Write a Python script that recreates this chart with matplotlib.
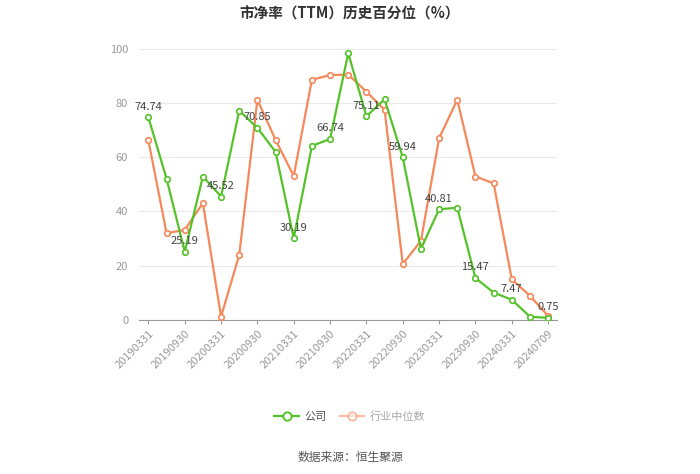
import matplotlib
matplotlib.use("Agg")
import matplotlib.pyplot as plt  # noqa: E402
from matplotlib.lines import Line2D  # noqa: E402

plt.rcParams["font.family"] = ["Noto Sans CJK SC", "DejaVu Sans"]

dates = ["20190331", "20190630", "20190930", "20191231", "20200331", "20200630",
         "20200930", "20201231", "20210331", "20210630", "20210930", "20211231",
         "20220331", "20220630", "20220930", "20221231", "20230331", "20230630",
         "20230930", "20231231", "20240331", "20240630", "20240709"]
company = [74.74, 52.1, 25.19, 52.9, 45.52, 77.2, 70.85, 62.0, 30.19, 64.2, 66.74, 98.4,
           75.11, 81.4, 59.94, 26.2, 40.81, 41.4, 15.47, 10.1, 7.47, 1.2, 0.75]
industry = [66.3, 32.0, 33.2, 43.1, 1.2, 24.0, 81.2, 66.4, 53.1, 88.6, 90.3, 90.5,
            84.2, 77.5, 20.6, 29.2, 67.0, 81.2, 52.9, 50.4, 15.0, 8.9, 1.5]

GREEN = "#56c22a"
ORANGE = "#f5895c"

fig = plt.figure(figsize=(7, 4.74), dpi=100)
ax = fig.add_axes([0.199, 0.325, 0.597, 0.572])
x = list(range(len(dates)))

ax.plot(x, industry, color=ORANGE, lw=1.6, marker="o", ms=4, mfc="white", mew=1.2, zorder=3)
ax.plot(x, company, color=GREEN, lw=1.6, marker="o", ms=4, mfc="white", mew=1.2, zorder=4)

for i in range(0, len(dates), 2):
    ax.annotate(f"{company[i]:.2f}", (x[i], company[i]), textcoords="offset points",
                xytext=(0, 4), ha="center", va="bottom", fontsize=8, color="#444444", zorder=5)

ax.set_xlim(-0.5, len(dates) - 0.5)
ax.set_ylim(0, 100)
ax.set_yticks([0, 20, 40, 60, 80, 100])
ax.grid(axis="y", color="#e8e8e8", lw=0.8)
ax.set_axisbelow(True)
ticks = list(range(0, len(dates), 2))
ax.set_xticks(ticks)
ax.set_xticklabels([dates[i] for i in ticks], rotation=45, ha="right", rotation_mode="anchor")
ax.tick_params(axis="x", colors="#999999", labelsize=8, length=3, pad=3)
ax.tick_params(axis="y", colors="#999999", labelsize=8, length=0, pad=8)
for s in ["top", "right", "left"]:
    ax.spines[s].set_visible(False)
ax.spines["bottom"].set_color("#999999")

fig.text(0.5, 0.972, "市净率（TTM）历史百分位（%）", ha="center", va="center",
         fontsize=10.5, fontweight="bold", color="#333333")

handles = [Line2D([], [], color=GREEN, lw=1.6, marker="o", ms=6, mfc="white", mew=1.4),
           Line2D([], [], color=ORANGE, lw=1.6, marker="o", ms=6, mfc="white", mew=1.4, alpha=0.55)]
leg = fig.legend(handles, ["公司", "行业中位数"], loc="center", bbox_to_anchor=(0.5, 0.122),
                 ncol=2, frameon=False, fontsize=8, handlelength=2.2, columnspacing=1.2,
                 handletextpad=0.5)
leg.get_texts()[0].set_color("#555555")
leg.get_texts()[1].set_color("#aaaaaa")

fig.text(0.5, 0.035, "数据来源：恒生聚源", ha="center", va="center", fontsize=8.5, color="#555555")

fig.savefig("out.png")
